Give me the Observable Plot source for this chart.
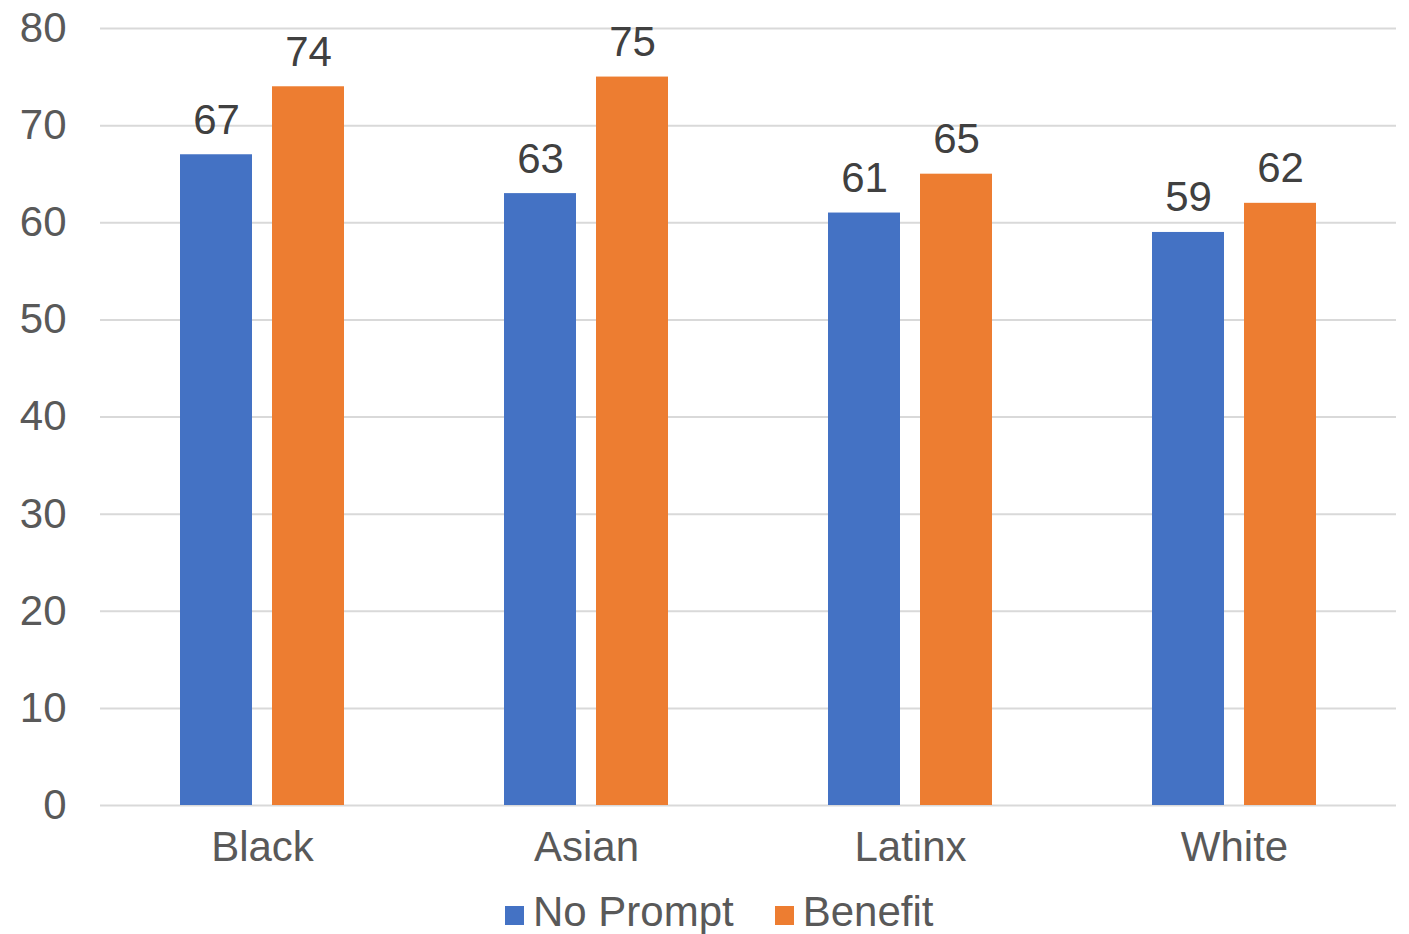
<!DOCTYPE html>
<html>
<head>
<meta charset="utf-8">
<script src="https://cdn.jsdelivr.net/npm/d3@7"></script>
<script src="https://cdn.jsdelivr.net/npm/@observablehq/plot@0.6"></script>
<style>
  html, body { margin: 0; padding: 0; background: #fff; }
  #chart svg { display: block; }
  .legend { display: flex; align-items: center; height: 64px; padding-left: 505px; font-family: "Liberation Sans", Arial, sans-serif; font-size: 42px; color: #595959; }
  .legend span.sw { display: inline-block; width: 19px; height: 19px; margin-right: 9px; margin-top: 6px; }
  .legend .item { display: flex; align-items: center; margin-right: 41px; }
</style>
</head>
<body>
<div id="chart"></div>
<script>
const categories = ["Black", "Asian", "Latinx", "White"];
const series = ["No Prompt", "Benefit"];
const noPrompt = [67, 63, 61, 59];
const benefit = [74, 75, 65, 62];
const colors = ["#4472C4", "#ED7D31"];
const yTicks = [0, 10, 20, 30, 40, 50, 60, 70, 80];

const data = [];
categories.forEach((c, i) => {
  data.push({category: c, series: series[0], value: noPrompt[i]});
  data.push({category: c, series: series[1], value: benefit[i]});
});

const chart = Plot.plot({
  width: 1409,
  height: 880,
  marginLeft: 98,
  marginRight: 12,
  marginTop: 28,
  marginBottom: 75,
  style: {fontFamily: "'Liberation Sans', Arial, sans-serif", fontSize: "42px", color: "#595959", background: "#fff"},
  fx: {domain: categories, padding: 0, label: null, axis: null},
  x: {domain: series, paddingInner: 0.215, paddingOuter: 0.86, axis: null},
  y: {domain: [0, 80], ticks: yTicks, label: null},
  color: {domain: series, range: colors},
  marks: [
    Plot.ruleY(yTicks, {stroke: "#d9d9d9", strokeWidth: 2}),
    Plot.axisY({ticks: yTicks, tickSize: 0, tickPadding: 34, label: null, fill: "#595959", fontSize: 42}),
    Plot.axisFx({anchor: "bottom", tickSize: 0, tickPadding: 26, label: null, fill: "#595959", fontSize: 42}),
    Plot.barY(data, {fx: "category", x: "series", y: "value", fill: "series"}),
    Plot.text(data, {fx: "category", x: "series", y: "value", text: d => String(d.value), lineAnchor: "bottom", dy: -21, fill: "#404040", fontSize: 42})
  ]
});
document.getElementById("chart").appendChild(chart);

const legend = document.createElement("div");
legend.className = "legend";
series.forEach((s, i) => {
  const item = document.createElement("div");
  item.className = "item";
  const sw = document.createElement("span");
  sw.className = "sw";
  sw.style.background = colors[i];
  item.appendChild(sw);
  item.appendChild(document.createTextNode(s));
  legend.appendChild(item);
});
document.body.appendChild(legend);
</script>
</body>
</html>
